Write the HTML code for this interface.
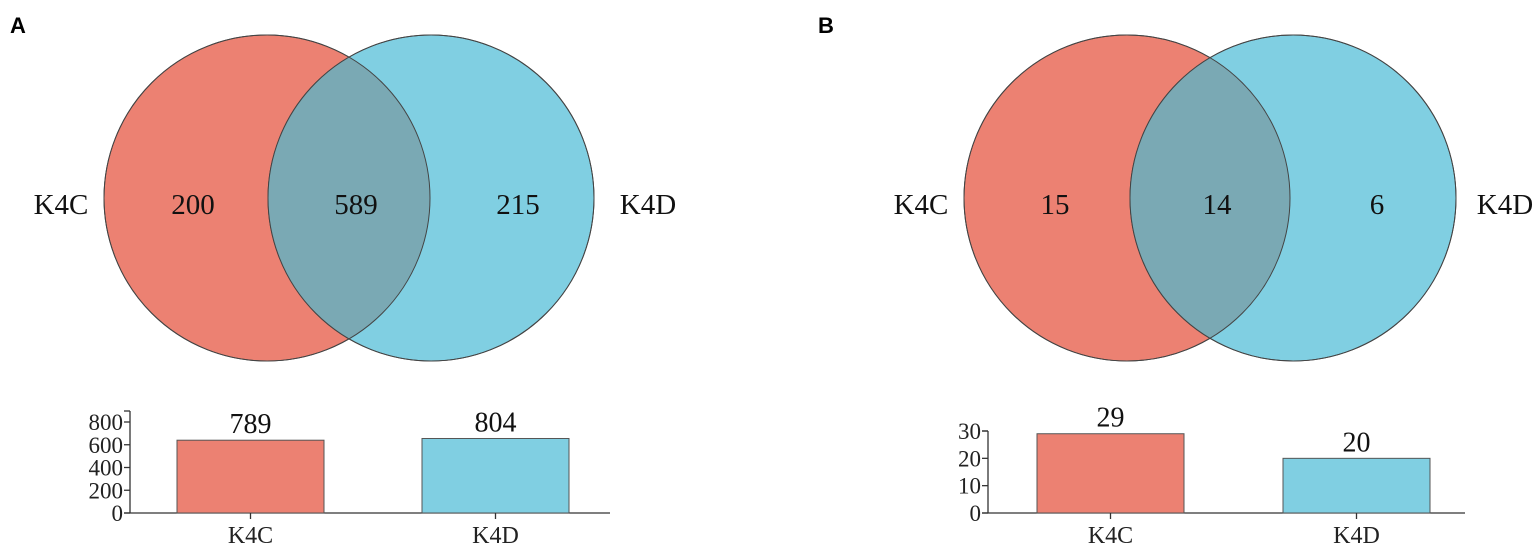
<!DOCTYPE html>
<html><head><meta charset="utf-8"><style>
html,body{margin:0;padding:0;background:#fff;}
svg{display:block;font-family:"Liberation Serif",serif;}
.pl{font-family:"Liberation Sans",sans-serif;font-weight:bold;font-size:22px;}
</style></head><body>
<svg id="fig" width="1535" height="549" viewBox="0 0 1535 549">
<text class="pl" x="10" y="33">A</text>
<text class="pl" x="818" y="33">B</text>
</svg>
<script>
const panelNames=["a","b"];
const setNames=["K4C","K4D"];
const vennOnlyA=[200,215];const vennBothA=589;
const vennOnlyB=[15,6];const vennBothB=14;
const barLabelsA=[789,804];
const barHeightsA=[640,655];
const barTicksA=[0,200,400,600,800];
const barLabelsB=[29,20];
const barHeightsB=[29,20];
const barTicksB=[0,10,20,30];

const NS="http://www.w3.org/2000/svg";
const svg=document.getElementById('fig');
function mk(tag,attrs,parent,txt){const e=document.createElementNS(NS,tag);for(const k in attrs)e.setAttribute(k,attrs[k]);if(txt!==undefined)e.textContent=txt;(parent||svg).appendChild(e);return e;}

const layouts=[
 {p:"a",cx:[267,431],rx:163,cy:198,ry:163,lblX:[61,648],num:[193,356,518],only:vennOnlyA,both:vennBothA,
  ax:130,y0:513,axTop:411,maxV:800,pxMax:91,axEnd:610,bars:[[177,324],[422,569]],heights:barHeightsA,labels:barLabelsA,ticks:barTicksA},
 {p:"b",cx:[1127,1293],rx:163,cy:198,ry:163,lblX:[921,1505],num:[1055,1217,1377],only:vennOnlyB,both:vennBothB,
  ax:988,y0:513,axTop:431,maxV:30,pxMax:82,axEnd:1465,bars:[[1037,1184],[1283,1430]],heights:barHeightsB,labels:barLabelsB,ticks:barTicksB}
];
const fills=["#ec8172","#80cfe2"];
layouts.forEach(L=>{
  const g=mk('g',{});
  
  
  const cid='clip-'+L.p;
  const defs=mk('defs',{},g);
  const cp=mk('clipPath',{id:cid},defs);
  mk('ellipse',{cx:L.cx[0],cy:L.cy,rx:L.rx,ry:L.ry},cp);
  for(let i=0;i<2;i++){
    const e=mk('ellipse',{cx:L.cx[i],cy:L.cy,rx:L.rx,ry:L.ry,fill:fills[i],stroke:"#444","stroke-width":1},g);
    
    
  }
  const ov=mk('ellipse',{cx:L.cx[1],cy:L.cy,rx:L.rx,ry:L.ry,fill:"#7aa9b4","clip-path":"url(#"+cid+")"},g);
  
  
  mk('ellipse',{cx:L.cx[0],cy:L.cy,rx:L.rx,ry:L.ry,fill:"none",stroke:"#444","stroke-width":1},g);
  mk('ellipse',{cx:L.cx[1],cy:L.cy,rx:L.rx,ry:L.ry,fill:"none",stroke:"#444","stroke-width":1},g);
  const vals=[L.only[0],L.both,L.only[1]];
  vals.forEach((v,i)=>{const t=mk('text',{x:L.num[i],y:214,"text-anchor":"middle","font-size":"29px",fill:"#111"},g,v);
    
    });
  setNames.forEach((s,i)=>{const t=mk('text',{x:L.lblX[i],y:214,"text-anchor":"middle","font-size":"29px",fill:"#111"},g,s);
    
    });

  const b=mk('g',{});
  
  
  const y=v=>L.y0-v/L.maxV*L.pxMax;
  mk('line',{x1:L.ax,y1:L.axTop,x2:L.ax,y2:L.y0,stroke:"#333","stroke-width":1.3},b);
  mk('line',{x1:L.ax-6,y1:L.axTop,x2:L.ax,y2:L.axTop,stroke:"#333","stroke-width":1.3},b);
  mk('line',{x1:L.ax-6,y1:L.y0,x2:L.axEnd,y2:L.y0,stroke:"#333","stroke-width":1.3},b);
  L.ticks.forEach(tv=>{
    mk('line',{x1:L.ax-6,y1:y(tv),x2:L.ax,y2:y(tv),stroke:"#333","stroke-width":1.3},b);
    const t=mk('text',{x:L.ax-7,y:y(tv)+8,"text-anchor":"end","font-size":"23px",fill:"#222"},b,tv);
    
    
  });
  L.heights.forEach((h,i)=>{
    const [x1,x2]=L.bars[i];
    const r=mk('rect',{x:x1,y:y(h),width:x2-x1,height:L.y0-y(h),fill:fills[i],stroke:"#555","stroke-width":1},b);
    
    
    const cx=(x1+x2)/2;
    const vl=mk('text',{x:cx,y:y(h)-7,"text-anchor":"middle","font-size":"28px",fill:"#111"},b,L.labels[i]);
    
    
    mk('line',{x1:cx,y1:L.y0,x2:cx,y2:L.y0+6,stroke:"#333","stroke-width":1.3},b);
    const xl=mk('text',{x:cx,y:L.y0+30,"text-anchor":"middle","font-size":"24px",fill:"#222"},b,setNames[i]);
    
    
  });
});
</script>
</body></html>
